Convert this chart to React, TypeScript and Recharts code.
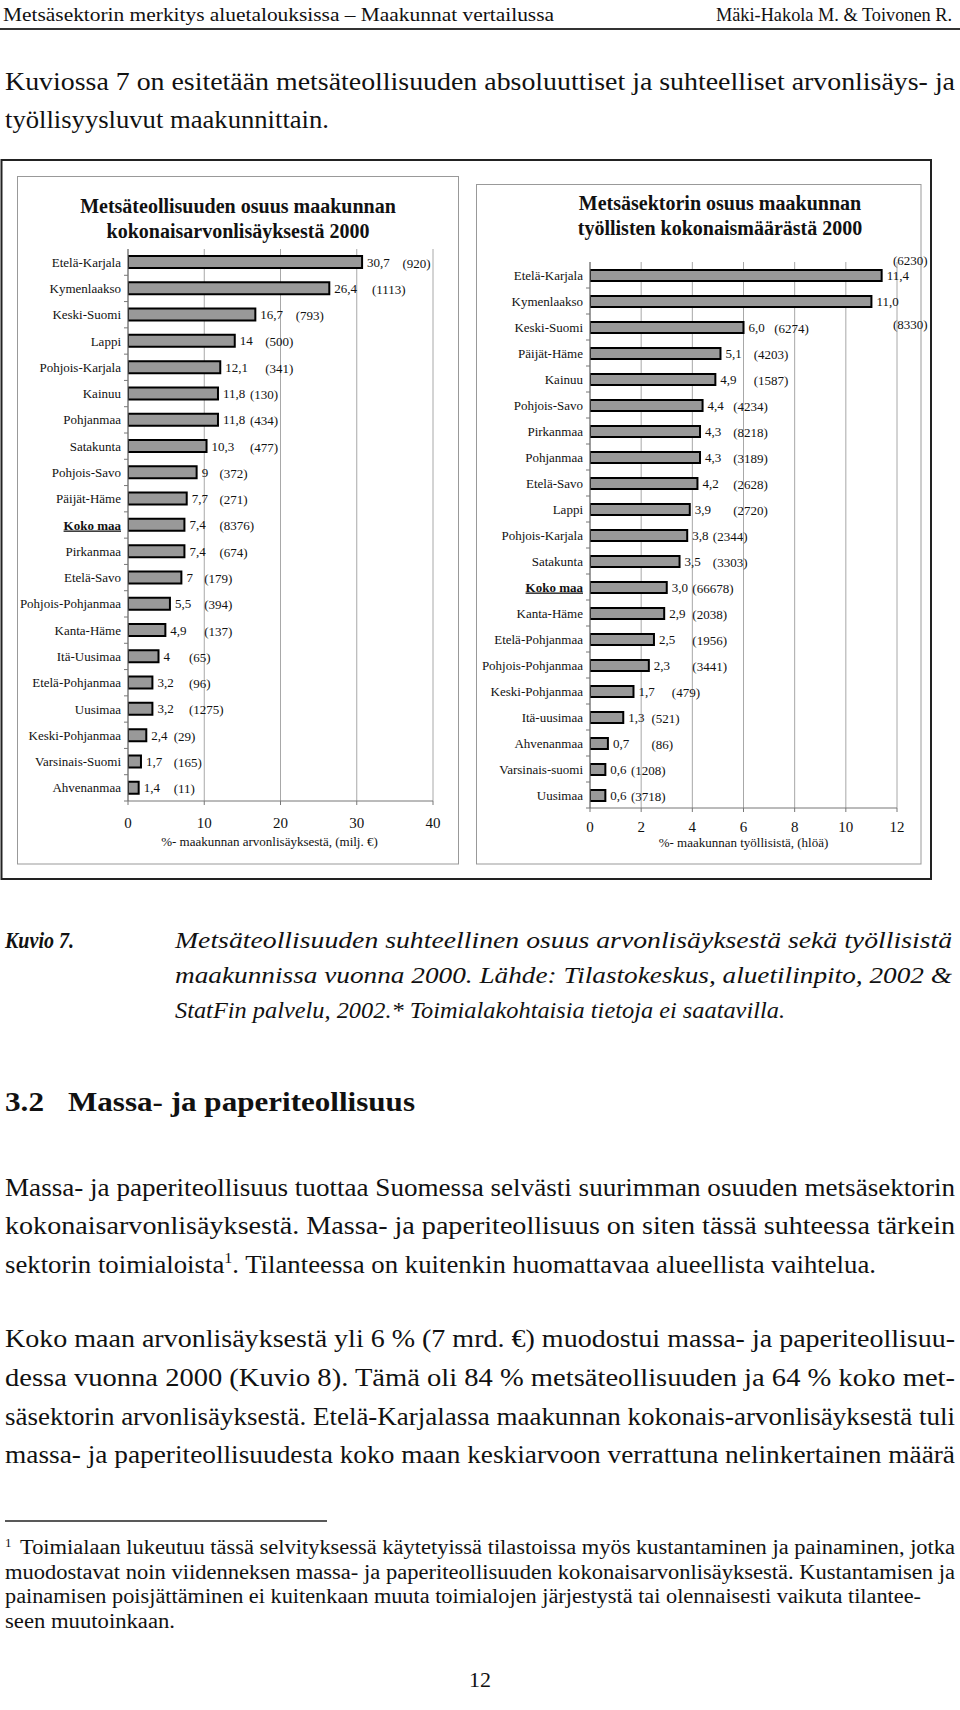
import React from 'react';
import { BarChart, Bar, XAxis, YAxis, CartesianGrid, LabelList, Label } from 'recharts';

// ---------- Left chart data ----------
const leftRegions = ['Etelä-Karjala', 'Kymenlaakso', 'Keski-Suomi', 'Lappi', 'Pohjois-Karjala', 'Kainuu', 'Pohjanmaa', 'Satakunta', 'Pohjois-Savo', 'Päijät-Häme', 'Koko maa', 'Pirkanmaa', 'Etelä-Savo', 'Pohjois-Pohjanmaa', 'Kanta-Häme', 'Itä-Uusimaa', 'Etelä-Pohjanmaa', 'Uusimaa', 'Keski-Pohjanmaa', 'Varsinais-Suomi', 'Ahvenanmaa'];
const leftShares = [30.7, 26.4, 16.7, 14, 12.1, 11.8, 11.8, 10.3, 9, 7.7, 7.4, 7.4, 7, 5.5, 4.9, 4, 3.2, 3.2, 2.4, 1.7, 1.4];
const leftAmounts = [920, 1113, 793, 500, 341, 130, 434, 477, 372, 271, 8376, 674, 179, 394, 137, 65, 96, 1275, 29, 165, 11];
const leftTicks = [0, 10, 20, 30, 40];
const leftTitle = ['Metsäteollisuuden osuus maakunnan', 'kokonaisarvonlisäyksestä 2000'];
const leftAxisTitle = '%- maakunnan arvonlisäyksestä, (milj. €)';

// ---------- Right chart data ----------
const rightRegions = ['Etelä-Karjala', 'Kymenlaakso', 'Keski-Suomi', 'Päijät-Häme', 'Kainuu', 'Pohjois-Savo', 'Pirkanmaa', 'Pohjanmaa', 'Etelä-Savo', 'Lappi', 'Pohjois-Karjala', 'Satakunta', 'Koko maa', 'Kanta-Häme', 'Etelä-Pohjanmaa', 'Pohjois-Pohjanmaa', 'Keski-Pohjanmaa', 'Itä-uusimaa', 'Ahvenanmaa', 'Varsinais-suomi', 'Uusimaa'];
const rightShares = [11.4, 11.0, 6.0, 5.1, 4.9, 4.4, 4.3, 4.3, 4.2, 3.9, 3.8, 3.5, 3.0, 2.9, 2.5, 2.3, 1.7, 1.3, 0.7, 0.6, 0.6];
const rightAmounts = [6230, 8330, 6274, 4203, 1587, 4234, 8218, 3189, 2628, 2720, 2344, 3303, 66678, 2038, 1956, 3441, 479, 521, 86, 1208, 3718];
const rightTicks = [0, 2, 4, 6, 8, 10, 12];
const rightTitle = ['Metsäsektorin osuus maakunnan', 'työllisten kokonaismäärästä 2000'];
const rightAxisTitle = '%- maakunnan työllisistä, (hlöä)';

const highlight = 'Koko maa';

const FONT = "'Liberation Serif', 'Times New Roman', serif";

let measureCtx: CanvasRenderingContext2D | null = null;
function textW(s: string, size: number, weight = 'normal') {
  if (!measureCtx) {
    const c = document.createElement('canvas');
    measureCtx = c.getContext('2d');
  }
  if (measureCtx) {
    measureCtx.font = `${weight} ${size}px "Liberation Serif"`;
    return measureCtx.measureText(s).width;
  }
  return s.length * size * 0.5;
}

type Cfg = {
  left: number; top: number; width: number; height: number;
  margin: { top: number; right: number; bottom: number; left: number };
  yWidth: number; xHeight: number; max: number; ticks: number[];
  regions: string[]; shares: number[]; amounts: number[];
  fmt: (v: number) => string; barSize: number; steps: number; gap: number;
  tickMargin: number; axisTitle: string; axisTitleDx: number;
  overflow: Record<number, number>;
  title: string[]; titleX: number; titleY: number[];
};

const LABEL_SIZE = 13;

function HBarChart({ cfg }: { cfg: Cfg }) {
  const data = cfg.regions.map((r, i) => ({ region: r, share: cfg.shares[i], idx: i }));
  const plotW = cfg.width - cfg.margin.left - cfg.margin.right - cfg.yWidth;
  const plotH = cfg.height - cfg.margin.top - cfg.margin.bottom - cfg.xHeight;
  const band = plotH / cfg.regions.length;

  const CatTick = (p: any) => {
    const { x, y, payload } = p;
    const axisX = x + 7;
    const bold = payload.value === highlight;
    return (
      <g>
        <text x={x} y={y} dy={4.5} textAnchor="end" fontSize={LABEL_SIZE} fill="#111"
          fontWeight={bold ? 'bold' : 'normal'}
          style={bold ? { textDecoration: 'underline', fontFamily: FONT } : { fontFamily: FONT }}>
          {payload.value}
        </text>
        <line x1={axisX - 4} x2={axisX} y1={y + band / 2} y2={y + band / 2} stroke="#777" strokeWidth={1} />
      </g>
    );
  };

  const renderLabel = (p: any) => {
    const vb = p.viewBox || {};
    const x = Number(p.x ?? vb.x);
    const y = Number(p.y ?? vb.y);
    const w = Number(p.width ?? vb.width);
    const h = Number(p.height ?? vb.height);
    const i = Number(p.value);
    const vText = cfg.fmt(cfg.shares[i]);
    const aText = `(${cfg.amounts[i]})`;
    const vx = x + w + 5;
    const cy = y + h / 2;
    const vw = textW(vText, LABEL_SIZE);
    const step = plotW / cfg.steps;
    const k = Math.ceil((vx + vw + cfg.gap - x) / step - 1e-6);
    let ax = x + k * step;
    let ay = cy + 1;
    const aw = textW(aText, LABEL_SIZE);
    if (ax + aw > x + plotW + 4 && cfg.overflow[i] !== undefined) {
      ax = x + plotW - 4;
      ay = cy + cfg.overflow[i];
    }
    return (
      <g style={{ fontFamily: FONT }}>
        <text x={vx} y={cy} dy={4.5} fontSize={LABEL_SIZE} fill="#111">{vText}</text>
        <text x={ax} y={ay} dy={4.5} fontSize={LABEL_SIZE} fill="#111">{aText}</text>
      </g>
    );
  };

  const renderAxisTitle = (p: any) => {
    const vb = p.viewBox || {};
    return (
      <text x={vb.x + vb.width / 2 + cfg.axisTitleDx} y={vb.y + vb.height} textAnchor="middle" fontSize={LABEL_SIZE} fill="#111" style={{ fontFamily: FONT }}>
        {cfg.axisTitle}
      </text>
    );
  };

  return (
    <div style={{ position: 'absolute', left: cfg.left, top: cfg.top, width: cfg.width, height: cfg.height, fontFamily: FONT }}>
      <BarChart width={cfg.width} height={cfg.height} data={data} layout="vertical" margin={cfg.margin} barCategoryGap={0}>
        <CartesianGrid horizontal={false} stroke="#a8a8a8" />
        <XAxis type="number" domain={[0, cfg.max]} ticks={cfg.ticks} interval={0} height={cfg.xHeight}
          tick={{ fontSize: 15, fill: '#111', fontFamily: FONT }} tickSize={4} tickMargin={cfg.tickMargin}
          axisLine={{ stroke: '#777' }} tickLine={{ stroke: '#777' }} allowDataOverflow>
          <Label position="insideBottom" content={renderAxisTitle} />
        </XAxis>
        <XAxis xAxisId="top" orientation="top" type="number" domain={[0, cfg.max]} height={0}
          tick={false} tickLine={false} axisLine={{ stroke: '#a8a8a8' }} />
        <YAxis type="category" dataKey="region" width={cfg.yWidth} interval={0} tickSize={4} tickMargin={3}
          tickLine={false} axisLine={{ stroke: '#666' }} tick={CatTick} />
        <Bar dataKey="share" fill="#999999" stroke="#000" strokeWidth={2} barSize={cfg.barSize} isAnimationActive={false}>
          <LabelList dataKey="idx" content={renderLabel} />
        </Bar>
      </BarChart>
      {cfg.title.map((t, i) => (
        <div key={i} style={{ position: 'absolute', left: cfg.titleX - cfg.left - 200, width: 400, top: cfg.titleY[i] - cfg.top - 17,
          textAlign: 'center', fontWeight: 'bold', fontSize: 20, lineHeight: '24px', color: '#111', whiteSpace: 'nowrap' }}>{t}</div>
      ))}
    </div>
  );
}

const leftCfg: Cfg = {
  left: 18, top: 176, width: 441, height: 688,
  margin: { top: 73, right: 26, bottom: 18, left: 0 },
  yWidth: 110, xHeight: 45, max: 40, ticks: leftTicks,
  regions: leftRegions, shares: leftShares, amounts: leftAmounts,
  fmt: (v) => String(v).replace('.', ','), barSize: 12, steps: 20, gap: 4,
  tickMargin: 12, axisTitle: leftAxisTitle, axisTitleDx: -11,
  overflow: {}, title: leftTitle, titleX: 238, titleY: [211, 236],
};

const rightCfg: Cfg = {
  left: 476, top: 184, width: 460, height: 680,
  margin: { top: 78, right: 39, bottom: 17, left: 0 },
  yWidth: 114, xHeight: 39, max: 12, ticks: rightTicks,
  regions: rightRegions, shares: rightShares, amounts: rightAmounts,
  fmt: (v) => v.toFixed(1).replace('.', ','), barSize: 11, steps: 15, gap: 2,
  tickMargin: 9, axisTitle: rightAxisTitle, axisTitleDx: 0,
  overflow: { 0: -15, 1: 23 }, title: rightTitle, titleX: 720, titleY: [208, 233],
};

type TL = { t: React.ReactNode; x: number; y: number; w?: number; s: number; b?: boolean; i?: boolean; a?: 'middle' };

const pageText: TL[] = [
  { t: 'Metsäsektorin merkitys aluetalouksissa – Maakunnat vertailussa', x: 3, y: 21, w: 551, s: 19 },
  { t: 'Mäki-Hakola M. & Toivonen R.', x: 716, y: 21, w: 236, s: 19 },
  { t: 'Kuviossa 7 on esitetään  metsäteollisuuden absoluuttiset ja suhteelliset arvonlisäys- ja', x: 5, y: 90, w: 950, s: 25 },
  { t: 'työllisyysluvut maakunnittain.', x: 5, y: 128, w: 324, s: 25 },
  { t: 'Kuvio 7.', x: 5, y: 948, w: 69, s: 24, b: true, i: true },
  { t: 'Metsäteollisuuden suhteellinen osuus arvonlisäyksestä sekä työllisistä', x: 175, y: 948, w: 777, s: 24, i: true },
  { t: 'maakunnissa vuonna 2000. Lähde: Tilastokeskus, aluetilinpito, 2002 &', x: 175, y: 983, w: 777, s: 24, i: true },
  { t: 'StatFin palvelu, 2002.* Toimialakohtaisia tietoja ei saatavilla.', x: 175, y: 1018, w: 610, s: 24, i: true },
  { t: '3.2', x: 5, y: 1111, w: 39, s: 28, b: true },
  { t: 'Massa- ja paperiteollisuus', x: 68, y: 1111, w: 347, s: 28, b: true },
  { t: 'Massa- ja paperiteollisuus tuottaa Suomessa selvästi suurimman osuuden metsäsektorin', x: 5, y: 1196, w: 950, s: 25 },
  { t: 'kokonaisarvonlisäyksestä. Massa- ja paperiteollisuus on siten tässä suhteessa tärkein', x: 5, y: 1234, w: 950, s: 25 },
  { t: (<>sektorin toimialoista<tspan dy={-10} fontSize={15}>1</tspan><tspan dy={10}>. Tilanteessa on kuitenkin huomattavaa alueellista vaihtelua.</tspan></>), x: 5, y: 1273, w: 871, s: 25 },
  { t: 'Koko maan  arvonlisäyksestä yli 6 % (7 mrd. €) muodostui massa- ja paperiteollisuu-', x: 5, y: 1347, w: 950, s: 25 },
  { t: 'dessa vuonna 2000 (Kuvio 8). Tämä oli 84 % metsäteollisuuden ja 64 % koko met-', x: 5, y: 1386, w: 950, s: 25 },
  { t: 'säsektorin arvonlisäyksestä. Etelä-Karjalassa maakunnan kokonais-arvonlisäyksestä tuli', x: 5, y: 1425, w: 950, s: 25 },
  { t: 'massa- ja paperiteollisuudesta koko maan keskiarvoon verrattuna nelinkertainen määrä', x: 5, y: 1463, w: 950, s: 25 },
  { t: '1', x: 5, y: 1547, s: 13 },
  { t: 'Toimialaan lukeutuu tässä selvityksessä käytetyissä tilastoissa myös kustantaminen ja painaminen, jotka', x: 20, y: 1554, w: 935, s: 20 },
  { t: 'muodostavat noin viidenneksen massa- ja paperiteollisuuden kokonaisarvonlisäyksestä. Kustantamisen ja', x: 5, y: 1579, w: 950, s: 20 },
  { t: 'painamisen poisjättäminen ei kuitenkaan muuta toimialojen järjestystä tai olennaisesti vaikuta tilantee-', x: 5, y: 1603, w: 916, s: 20 },
  { t: 'seen muutoinkaan.', x: 5, y: 1628, w: 170, s: 20 },
  { t: '12', x: 480, y: 1687, s: 22, a: 'middle' },
];

export default function App() {
  return (
    <div style={{ position: 'absolute', left: 0, top: 0, width: 960, height: 1710, background: '#fff', fontFamily: FONT, overflow: 'hidden' }}>
      <svg width={960} height={1710} style={{ position: 'absolute', left: 0, top: 0 }}>
        <line x1={0} x2={960} y1={29} y2={29} stroke="#333" strokeWidth={2} />
        <rect x={1.5} y={160} width={929.5} height={719} fill="none" stroke="#222" strokeWidth={2} />
        <rect x={17.5} y={176.5} width={441} height={687.5} fill="none" stroke="#999" strokeWidth={1} />
        <rect x={476.5} y={184.5} width={444.5} height={679.5} fill="none" stroke="#999" strokeWidth={1} />
        <line x1={5} x2={327} y1={1521} y2={1521} stroke="#222" strokeWidth={1.5} />
        {pageText.map((l, k) => (
          <text key={k} x={l.x} y={l.y} fontSize={l.s} fill="#111"
            style={{ fontFamily: FONT, fontWeight: l.b ? 'bold' : 'normal', fontStyle: l.i ? 'italic' : 'normal' }}
            textAnchor={l.a || 'start'}
            {...(l.w ? { textLength: l.w, lengthAdjust: 'spacingAndGlyphs' } : {})}>
            {l.t}
          </text>
        ))}
      </svg>
      <HBarChart cfg={leftCfg} />
      <HBarChart cfg={rightCfg} />
    </div>
  );
}
